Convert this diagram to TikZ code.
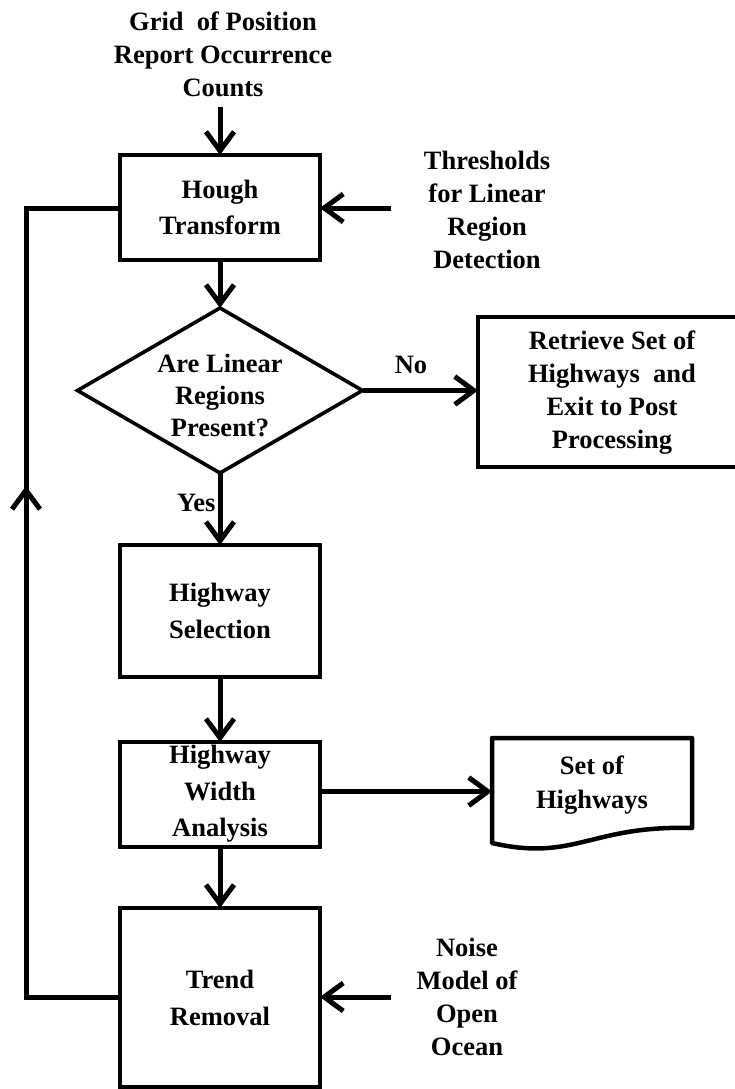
\documentclass[tikz,border=0pt]{standalone}
\usepackage{fontspec}
\setmainfont{Liberation Serif}
\usetikzlibrary{arrows.meta,shapes.geometric}

\tikzset{
  txt/.style={align=center, inner sep=0pt, font=\fontsize{26.5}{33}\selectfont\bfseries},
  boxtxt/.style={txt, font=\fontsize{26.5}{36.5}\selectfont\bfseries},
  proc/.style={draw, line width=4.5pt, rectangle, inner sep=0pt, outer sep=0pt, minimum width=200pt},
  conn/.style={line width=5pt},
  arr/.style={conn, -{Straight Barb[length=19pt, width=28pt, line width=5pt]}},
}

\begin{document}
\begin{tikzpicture}[x=1pt, y=-1pt]
  \clip (0,0) rectangle (735,1089);
  \useasboundingbox (0,0) rectangle (735,1089);

  % external inputs
  \node[txt] (grid) at (223,54) {Grid~ of Position\\Report Occurrence\\Counts};
  \node[txt] (thr) at (487,210) {Thresholds\\for Linear\\Region\\Detection};
  \node[txt] (noise) at (467,997) {Noise\\Model of\\Open\\Ocean};

  % process boxes
  \node[proc, minimum height=105pt] (hough) at (220,207.5) {};
  \node[boxtxt] at (hough) {Hough\\Transform};

  \node[diamond, draw, line width=3.6pt, minimum width=285pt, minimum height=165pt,
        inner sep=0pt, outer sep=0pt] (dia) at (220,390.5) {};
  \node[txt, font=\fontsize{26.5}{32}\selectfont\bfseries] at (220,395) {Are Linear\\Regions\\Present?};

  \node[proc, minimum width=267pt, minimum height=150pt] (retr) at (611.5,392) {};
  \node[txt] at (612,392.5) {Retrieve Set of\\Highways~ and\\Exit to Post\\Processing};

  \node[proc, minimum height=132pt] (sel) at (220,611) {};
  \node[boxtxt] at (sel) {Highway\\Selection};

  \node[proc, minimum height=105pt] (wid) at (220,794.5) {};
  \node[boxtxt] at (220,794) {Highway\\Width\\Analysis};

  \node[proc, minimum height=179pt] (trend) at (220,997.5) {};
  \node[boxtxt] at (220,998) {Trend\\Removal};

  % output document
  \node[minimum width=200pt, minimum height=107pt, inner sep=0pt, outer sep=0pt] (doc) at (592,791.5) {};
  \draw[line width=4.5pt, line join=round]
    (492,738) -- (692,738) -- (692,828)
    .. controls (590,825) and (575,862) .. (492,843) -- cycle;
  \node[txt, font=\fontsize{26.5}{34}\selectfont\bfseries] at (592,785) {Set of\\Highways};

  % flow connectors
  \draw[arr] (grid.south -| hough.north) ++(0,-10pt) -- (hough.north);
  \coordinate (thrIn) at (391,208);
  \draw[arr] (thrIn) -- (hough.east |- thrIn);
  \draw[arr] (hough.south) -- (dia.north);
  \draw[arr] (dia.east) -- node[txt, above=14pt, pos=0.42] {No} (retr.west |- dia.east);
  \draw[arr] (dia.south) -- node[txt, left=2pt, pos=0.42] {Yes} (sel.north);
  \draw[arr] (sel.south) -- (wid.north);
  \draw[arr] (wid.east |- doc.west) -- (doc.west);
  \draw[arr] (wid.south) -- (trend.north);
  \coordinate (noiseIn) at (391,997);
  \draw[arr] (noiseIn) -- (trend.east |- noiseIn);

  % feedback loop back to the Hough transform
  \coordinate (fbLow) at (26,997);
  \coordinate (fbHigh) at (26,208);
  \coordinate (fbMid) at (26,486);
  \draw[conn, line join=miter] (trend.west |- fbLow) -- (fbLow) -- (fbHigh) -- (hough.west |- fbHigh);
  \draw[arr] (fbLow) -- (fbMid);
\end{tikzpicture}
\end{document}
